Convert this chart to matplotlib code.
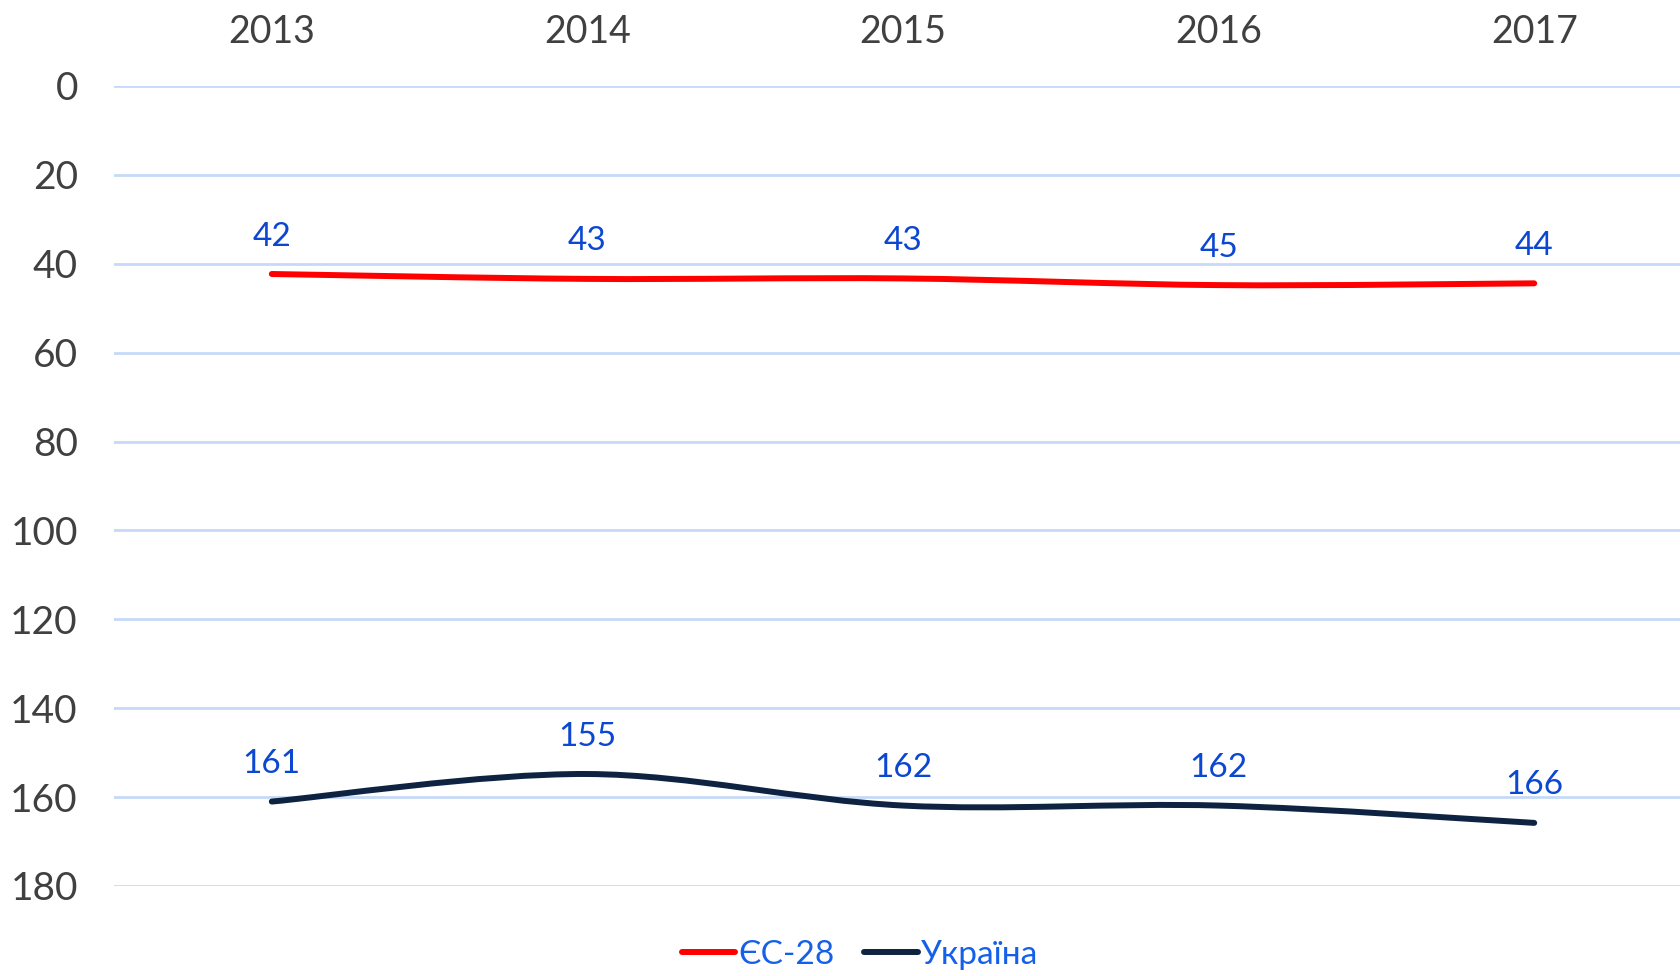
import matplotlib.pyplot as plt
from matplotlib.path import Path
from matplotlib.patches import PathPatch
from matplotlib.lines import Line2D

years = ['2013', '2014', '2015', '2016', '2017']
eu_vals = [42.3, 43.4, 43.3, 44.8, 44.4]
ua_vals = [161.0, 154.8, 161.9, 161.9, 165.8]
series_names = ['ЄС-28', 'Україна']
series_colors = ['#FF0000', '#0E2341']
label_color = '#0B47D1'
fam = ['Lato', 'DejaVu Sans']


def smooth_path(xs, ys):
    # bezier segments like excel "smoothed line"
    verts = [(xs[0], ys[0])]
    codes = [Path.MOVETO]
    n = len(xs)
    for i in range(n - 1):
        x0, y0 = (xs[i - 1], ys[i - 1]) if i > 0 else (xs[i], ys[i])
        x3, y3 = (xs[i + 2], ys[i + 2]) if i + 2 < n else (xs[i + 1], ys[i + 1])
        c1 = (xs[i] + (xs[i + 1] - x0) / 6, ys[i] + (ys[i + 1] - y0) / 6)
        c2 = (xs[i + 1] - (x3 - xs[i]) / 6, ys[i + 1] - (y3 - ys[i]) / 6)
        verts += [c1, c2, (xs[i + 1], ys[i + 1])]
        codes += [Path.CURVE4] * 3
    return Path(verts, codes)


fig = plt.figure(figsize=(16.8, 9.76), dpi=100)
ax = fig.add_axes([114 / 1680, 1 - 886 / 976, 1578 / 1680, 800 / 976])

x = list(range(len(years)))
for vals, col in zip([eu_vals, ua_vals], series_colors):
    ax.add_patch(PathPatch(smooth_path(x, vals), fill=False, edgecolor=col,
                           lw=4.3, capstyle='round', joinstyle='round', zorder=3))
    for xi, v in zip(x, vals):
        ax.annotate(f'{round(v):d}', (xi, v), xytext=(0, 27), textcoords='offset points',
                    ha='center', va='center', fontsize=24, color=label_color, family=fam)

ax.set_xlim(-0.5, 4.5)
ax.set_ylim(180, 0)
ax.set_yticks(range(0, 181, 20))
ax.set_xticks(x)
ax.set_xticklabels(years)
ax.xaxis.tick_top()
ax.tick_params(axis='x', length=0, pad=26, labelsize=27, labelcolor='#404040')
ax.tick_params(axis='y', length=0, pad=26, labelsize=28, labelcolor='#404040')
for lab in ax.get_xticklabels() + ax.get_yticklabels():
    lab.set_family(fam)
ax.grid(axis='y', color='#C6D9F8', lw=2)
ax.set_axisbelow(True)
for s in ax.spines.values():
    s.set_visible(False)

handles = [Line2D([], [], color=c, lw=4.3, solid_capstyle='round') for c in series_colors]
leg = fig.legend(handles, series_names, loc='center', bbox_to_anchor=(860 / 1680, 1 - 955 / 976),
                 ncol=2, frameon=False, handlelength=1.6, handletextpad=0.1, columnspacing=0.9,
                 prop={'family': fam, 'size': 24})
for t in leg.get_texts():
    t.set_color('#1560E8')

fig.savefig('out.png', dpi=100)
